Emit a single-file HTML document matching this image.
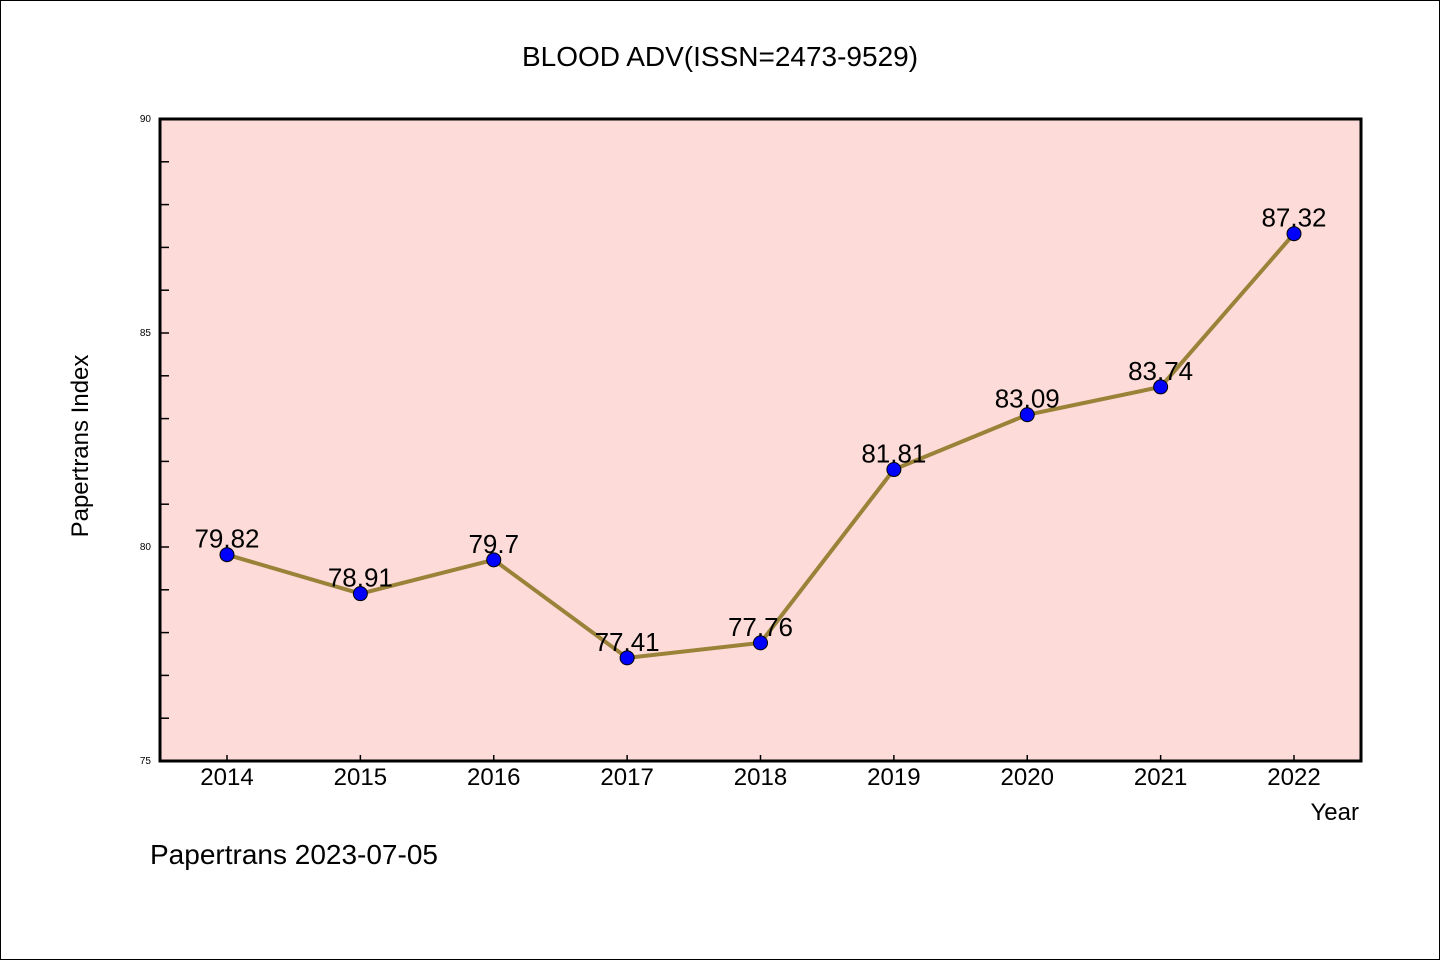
<!DOCTYPE html>
<html><head><meta charset="utf-8"><style>
html,body{margin:0;padding:0;background:#fff}
svg{display:block;font-family:"WenQuanYi Zen Hei","Liberation Sans",sans-serif}
</style></head><body>
<svg id="chart" width="1440" height="960">
<rect x="0.5" y="0.5" width="1439" height="959" fill="#fff" stroke="#000"/>
<text x="720" y="66" font-size="28" text-anchor="middle">BLOOD ADV(ISSN=2473-9529)</text>
<rect x="160" y="119" width="1201" height="642" fill="#fddbd8"/>
<g id="ticks"></g>
<g id="series"></g>
<rect x="160" y="119" width="1201" height="642" fill="none" stroke="#000" stroke-width="3"/>
<text x="88" y="446" font-size="24" text-anchor="middle" transform="rotate(-90 88 446)">Papertrans Index</text>
<text x="1359" y="820" font-size="24" text-anchor="end">Year</text>
<text x="150" y="864" font-size="28">Papertrans 2023-07-05</text>
</svg>
<script>
const years = ["2014","2015","2016","2017","2018","2019","2020","2021","2022"];
const values = [79.82,78.91,79.7,77.41,77.76,81.81,83.09,83.74,87.32];
const labels = ["79.82","78.91","79.7","77.41","77.76","81.81","83.09","83.74","87.32"];
const yTicks = [75,80,85,90];
const NS="http://www.w3.org/2000/svg";
const x0=227,dx=(1294-227)/8;
const xs=i=>x0+i*dx;
const ys=v=>761-(v-75)*(642/15);
function mk(t,a,p){const e=document.createElementNS(NS,t);for(const k in a)e.setAttribute(k,a[k]);p.appendChild(e);return e;}
const tg=document.getElementById('ticks'),sg=document.getElementById('series');
for(let v=76;v<90;v++){
 const l=mk('line',{x1:160,x2:169,y1:ys(v),y2:ys(v),stroke:'#000','stroke-width':1.5},tg);
 
 
}
yTicks.forEach(v=>{
 const t=mk('text',{x:151,y:ys(v)+3,'font-size':10,'text-anchor':'end'},tg);t.textContent=v;
 
 
});
years.forEach((y,i)=>{
 const l=mk('line',{x1:xs(i),x2:xs(i),y1:761,y2:755,stroke:'#000','stroke-width':1.5},tg);
 
 
 const t=mk('text',{x:xs(i),y:785,'font-size':24,'text-anchor':'middle'},tg);t.textContent=y;
 
 
});
const pl=mk('polyline',{points:values.map((v,i)=>xs(i)+','+ys(v)).join(' '),fill:'none',stroke:'#9a8238','stroke-width':4},sg);


values.forEach((v,i)=>{
 const c=mk('circle',{cx:xs(i),cy:ys(v),r:7,fill:'#0000ff',stroke:'#000','stroke-width':1},sg);
 
 
 const t=mk('text',{x:xs(i),y:ys(v)-7,'font-size':26,'text-anchor':'middle'},sg);t.textContent=labels[i];
 
 
});
</script>
</body></html>
